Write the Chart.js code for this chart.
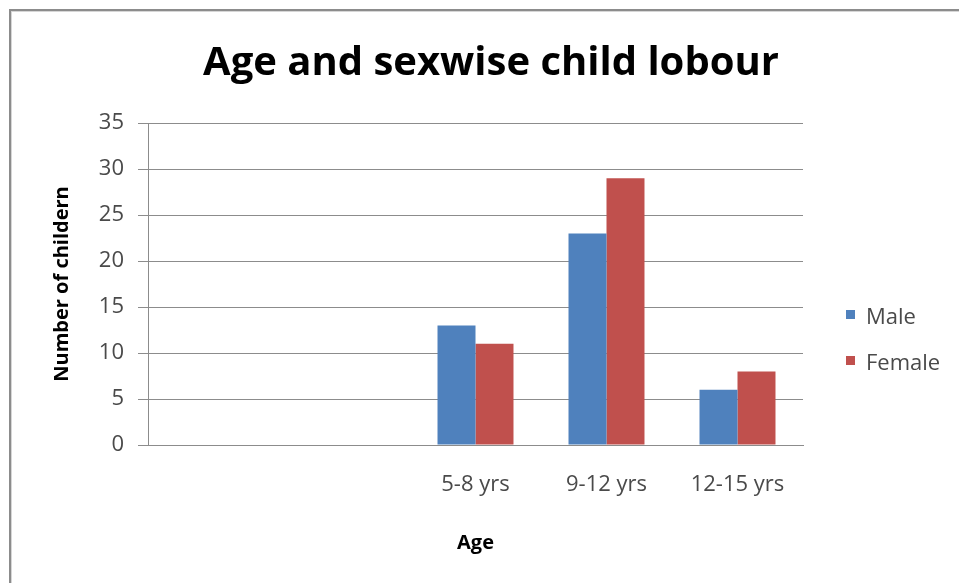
<!DOCTYPE html>
<html>
<head>
<meta charset="utf-8">
<title>Age and sexwise child lobour</title>
<script src="https://cdn.jsdelivr.net/npm/chart.js@4/dist/chart.umd.min.js"></script>
<style>
  html, body { margin: 0; padding: 0; background: #ffffff; }
  #wrap { position: relative; width: 959px; height: 583px; }
</style>
</head>
<body>
<div id="wrap"><canvas id="chart" width="959" height="583"></canvas></div>
<script>
// Age groups (the first two slots are left empty on the axis)
const ageGroups = ['', '', '5-8 yrs', '9-12 yrs', '12-15 yrs'];
// Number of children in each age group
const maleCounts = [null, null, 13, 23, 6];
const femaleCounts = [null, null, 11, 29, 8];
const seriesNames = ['Male', 'Female'];
const seriesColors = ['#4F81BD', '#C0504D'];
const chartTitle = 'Age and sexwise child lobour';
const yAxisTitle = 'Number of childern';
const xAxisTitle = 'Age';

const FONT = "'Open Sans', 'Noto Sans', sans-serif";

// White sheet with the grey frame on its top and left edges
const framePlugin = {
  id: 'frame',
  beforeDraw(chart) {
    const ctx = chart.ctx;
    ctx.save();
    ctx.fillStyle = '#ffffff';
    ctx.fillRect(0, 0, chart.width, chart.height);
    ctx.fillStyle = '#8c8c8c';
    ctx.fillRect(9, 9, chart.width - 9, 2);
    ctx.fillRect(9, 9, 2, chart.height - 9);
    ctx.fillStyle = '#d6d6d6';
    ctx.fillRect(11, 11, chart.width - 11, 1);
    ctx.fillRect(11, 11, 1, chart.height - 11);
    ctx.restore();
  }
};

// Heading and the series key at the right of the plot
const headingAndKey = {
  id: 'headingAndKey',
  afterDraw(chart) {
    const ctx = chart.ctx;
    const area = chart.chartArea;
    ctx.save();
    ctx.fillStyle = '#000000';
    ctx.font = 'bold 40px ' + FONT;
    ctx.textAlign = 'center';
    ctx.textBaseline = 'alphabetic';
    ctx.fillText(chartTitle, 491, 75);

    ctx.textAlign = 'left';
    ctx.textBaseline = 'middle';
    ctx.font = '22px ' + FONT;
    const keyX = area.right + 43;
    const keyY0 = 318;
    const step = 46;
    chart.data.datasets.forEach((ds, i) => {
      const y = keyY0 + i * step;
      ctx.fillStyle = ds.backgroundColor;
      ctx.fillRect(keyX, y - 8, 9, 9);
      ctx.fillStyle = '#4a4a4a';
      ctx.fillText(ds.label, keyX + 20, y);
    });
    ctx.restore();
  }
};

new Chart(document.getElementById('chart'), {
  type: 'bar',
  data: {
    labels: ageGroups,
    datasets: [
      { label: seriesNames[0], data: maleCounts, backgroundColor: seriesColors[0] },
      { label: seriesNames[1], data: femaleCounts, backgroundColor: seriesColors[1] }
    ]
  },
  options: {
    responsive: false,
    animation: false,
    devicePixelRatio: 1,
    categoryPercentage: 0.58,
    barPercentage: 1.0,
    layout: { padding: { top: 123, left: 10, right: 156, bottom: 10 } },
    plugins: {
      legend: { display: false },
      title: { display: false },
      tooltip: { enabled: false }
    },
    scales: {
      x: {
        grid: { display: false, drawTicks: false },
        border: { display: true, color: '#8c8c8c', width: 1 },
        ticks: { color: '#4a4a4a', font: { family: FONT, size: 22 }, padding: 27, maxRotation: 0 },
        title: {
          display: true, text: xAxisTitle, color: '#000000',
          font: { family: FONT, size: 20, weight: 'bold' },
          padding: { top: 0, bottom: 18 }
        },
        afterFit(scale) { scale.height = 128; }
      },
      y: {
        min: 0, max: 35,
        ticks: { stepSize: 5, color: '#4a4a4a', font: { family: FONT, size: 22 }, padding: 14 },
        grid: { color: '#8c8c8c', lineWidth: 1, tickLength: 10, drawTicks: true },
        border: { display: true, color: '#8c8c8c', width: 1 },
        title: {
          display: true, text: yAxisTitle, color: '#000000',
          font: { family: FONT, size: 20, weight: 'bold' },
          padding: { top: 40, bottom: 0 }
        },
        afterFit(scale) { scale.width = 138; }
      }
    }
  },
  plugins: [framePlugin, headingAndKey]
});
</script>
</body>
</html>
